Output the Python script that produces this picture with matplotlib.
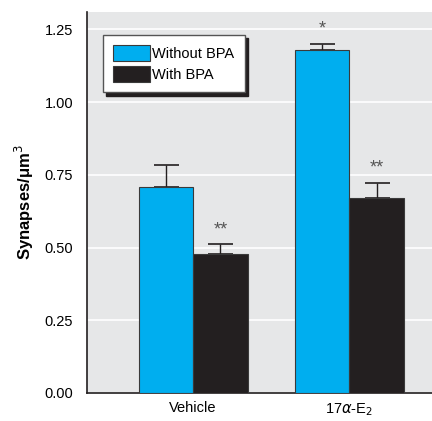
import numpy as np
import matplotlib.pyplot as plt

plt.rcParams['font.family'] = ['Liberation Sans Narrow', 'Liberation Sans', 'DejaVu Sans']

groups = ['Vehicle', '17$\\alpha$-E$_2$']
series = ['Without BPA', 'With BPA']
without_bpa = [0.708, 1.178]
without_err = [0.077, 0.023]
with_bpa = [0.479, 0.671]
with_err = [0.032, 0.051]
marks_without = ['', '*']
marks_with = ['**', '**']

blue = '#00AEEF'
dark = '#231F20'

fig = plt.figure(figsize=(4.32, 4.21), dpi=100)
ax = fig.add_axes([87/432, 28/421, 345/432, 381/421])
ax.set_facecolor('#E6E7E8')

x = np.arange(len(groups))
w = 0.35
ax.bar(x - w/2, without_bpa, w, color=blue, edgecolor='#3a3a3a', linewidth=0.8,
       label=series[0], zorder=3)
ax.bar(x + w/2, with_bpa, w, color=dark, edgecolor='#3a3a3a', linewidth=0.8,
       label=series[1], zorder=3)
ax.errorbar(x - w/2, without_bpa, yerr=[np.zeros(2), without_err], fmt='none',
            ecolor=dark, elinewidth=1, capsize=9, capthick=1.2, zorder=2)
ax.errorbar(x + w/2, with_bpa, yerr=[np.zeros(2), with_err], fmt='none',
            ecolor=dark, elinewidth=1, capsize=9, capthick=1.2, zorder=2)

for i in range(len(groups)):
    ax.text(x[i] - w/2, without_bpa[i] + without_err[i] + 0.05, marks_without[i],
            ha='center', va='center', fontsize=13, color='#555555')
    ax.text(x[i] + w/2, with_bpa[i] + with_err[i] + 0.05, marks_with[i],
            ha='center', va='center', fontsize=13, color='#555555')

ax.set_xlim(-0.68, 1.53)
ax.set_ylim(0, 1.31)
ax.set_yticks([0, 0.25, 0.5, 0.75, 1.0, 1.25])
ax.set_yticklabels(['0.00', '0.25', '0.50', '0.75', '1.00', '1.25'])
ax.set_xticks(x)
ax.set_xticklabels(groups)
ax.tick_params(length=0, labelsize=10.5, pad=6)
ax.tick_params(axis='y', pad=10)
ax.yaxis.grid(True, color='white', linewidth=1.2, zorder=0)
ax.set_axisbelow(True)
for s in ['top', 'right']:
    ax.spines[s].set_visible(False)
for s in ['left', 'bottom']:
    ax.spines[s].set_color('#231F20')
    ax.spines[s].set_linewidth(1.2)

ax.set_ylabel('Synapses/μm$^3$', fontsize=12, fontweight='bold', labelpad=6)

leg = ax.legend(loc='upper left', bbox_to_anchor=(0.046, 0.94), borderaxespad=0,
                fancybox=False, edgecolor='#555555', framealpha=1, fontsize=10.5,
                handlelength=2.5, handleheight=1.3, handletextpad=0.2,
                labelspacing=0.35, borderpad=0.7,
                shadow={'color': dark, 'alpha': 1, 'ox': 2.5, 'oy': -2.5})
leg.get_frame().set_linewidth(1)

fig.savefig('out.png', dpi=100)
